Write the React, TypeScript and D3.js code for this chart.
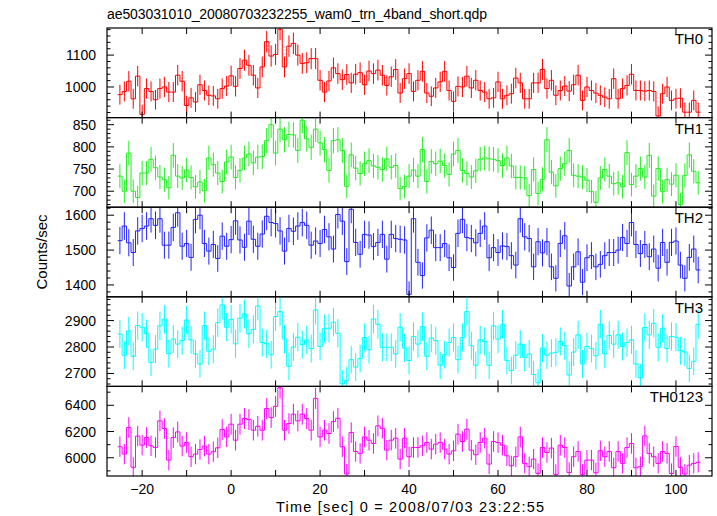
import React from 'react';
import * as d3 from 'd3';

// first bin centre (sec) and bin width (sec)
const firstBinCentre = -25;
const binWidth = 1;

const th0 = [
  976, 986, 1018, 963, 1034, 914, 995, 986, 960, 995,
  1000, 984, 984, 1037, 1018, 942, 966, 953, 1007, 989,
  974, 972, 963, 995, 1003, 1035, 1002, 1058, 1084, 1068,
  1037, 997, 1063, 1142, 1097, 1102, 1181, 1063, 1128, 1137,
  1100, 1074, 1076, 1089, 1089, 1021, 984, 1019, 1060, 1042,
  1023, 1039, 1013, 1040, 1045, 1007, 1050, 1042, 1053, 1037,
  1005, 1032, 1055, 981, 1026, 1042, 986, 1021, 1049, 981,
  971, 997, 1016, 1049, 989, 955, 1002, 1000, 1034, 997,
  1021, 989, 984, 963, 966, 1016, 963, 974, 979, 1028,
  1013, 963, 963, 1013, 1013, 1055, 995, 1021, 974, 989,
  1003, 987, 1007, 1037, 958, 1000, 989, 981, 974, 968,
  963, 1026, 963, 995, 1005, 1040, 989, 989, 987, 989,
  986, 909, 979, 1000, 958, 963, 965, 921, 921, 958, 921,
];

const th1 = [
  734, 700, 786, 700, 686, 741, 741, 772, 753, 732,
  726, 708, 781, 734, 730, 748, 731, 710, 721, 701,
  775, 760, 741, 722, 766, 777, 731, 747, 775, 784,
  764, 777, 778, 814, 850, 786, 840, 816, 828, 827,
  792, 860, 818, 799, 840, 809, 794, 747, 814, 816,
  792, 711, 782, 752, 740, 762, 769, 757, 754, 749,
  773, 754, 758, 706, 711, 734, 748, 734, 794, 722,
  767, 762, 768, 758, 738, 784, 792, 747, 740, 732,
  746, 772, 775, 773, 772, 769, 758, 775, 757, 731,
  731, 730, 690, 749, 695, 727, 816, 743, 712, 751,
  762, 792, 736, 734, 732, 725, 699, 675, 730, 749,
  734, 717, 719, 710, 787, 715, 734, 751, 732, 781,
  689, 751, 699, 726, 716, 736, 670, 736, 782, 745, 719,
];

const th2 = [
  1527, 1569, 1521, 1493, 1555, 1562, 1569, 1590, 1571, 1590,
  1514, 1514, 1565, 1607, 1511, 1519, 1479, 1588, 1600, 1519,
  1497, 1516, 1476, 1540, 1511, 1530, 1584, 1529, 1508, 1583,
  1531, 1511, 1546, 1597, 1579, 1576, 1555, 1497, 1562, 1554,
  1569, 1579, 1571, 1514, 1526, 1519, 1559, 1538, 1503, 1602,
  1583, 1467, 1617, 1522, 1488, 1545, 1543, 1510, 1522, 1545,
  1474, 1545, 1533, 1531, 1529, 1373, 1590, 1465, 1427, 1535,
  1557, 1507, 1507, 1519, 1478, 1450, 1548, 1588, 1536, 1533,
  1521, 1548, 1569, 1478, 1507, 1493, 1512, 1510, 1484, 1457,
  1590, 1538, 1533, 1452, 1524, 1492, 1524, 1452, 1419, 1519,
  1541, 1397, 1452, 1495, 1408, 1478, 1484, 1452, 1459, 1484,
  1493, 1493, 1500, 1536, 1519, 1579, 1516, 1490, 1516, 1481,
  1503, 1448, 1522, 1465, 1522, 1526, 1457, 1419, 1479, 1503, 1443,
];

const th3 = [
  2849, 2769, 2861, 2765, 2881, 2875, 2850, 2742, 2792, 2880,
  2905, 2775, 2830, 2811, 2824, 2902, 2827, 2774, 2736, 2881,
  2784, 2792, 2892, 2959, 2875, 2905, 2812, 2909, 2925, 2850,
  2867, 2955, 2817, 2812, 2771, 2915, 2934, 2830, 2727, 2800,
  2837, 2809, 2827, 2794, 2940, 2802, 2869, 2871, 2894, 2852,
  2661, 2674, 2752, 2724, 2756, 2836, 2790, 2906, 2886, 2799,
  2799, 2799, 2774, 2875, 2796, 2749, 2840, 2811, 2877, 2765,
  2834, 2824, 2731, 2771, 2817, 2836, 2752, 2836, 2934, 2805,
  2731, 2827, 2821, 2731, 2880, 2830, 2886, 2749, 2711, 2769,
  2811, 2761, 2774, 2696, 2665, 2796, 2769, 2777, 2780, 2821,
  2805, 2694, 2781, 2846, 2736, 2802, 2794, 2767, 2886, 2774,
  2844, 2811, 2846, 2802, 2817, 2827, 2736, 2684, 2874, 2846,
  2890, 2799, 2871, 2794, 2840, 2837, 2786, 2781, 2719, 2746, 2886,
];

const th0123 = [
  6084, 6028, 6230, 5927, 6165, 6096, 6154, 6091, 6078, 6281,
  6223, 5982, 6154, 6197, 6089, 6116, 6008, 6028, 6063, 6089,
  6028, 6046, 6076, 6215, 6159, 6256, 6134, 6256, 6299, 6291,
  6210, 6240, 6210, 6375, 6306, 6392, 6534, 6210, 6261, 6332,
  6281, 6332, 6299, 6210, 6453, 6159, 6210, 6185, 6276, 6301,
  6084, 5876, 6192, 6048, 6033, 6159, 6134, 6109, 6243, 6225,
  6058, 6134, 6149, 5990, 6149, 6008, 6078, 6078, 6091, 6116,
  6066, 6104, 6116, 6066, 6028, 6053, 6180, 6124, 6218, 6058,
  6023, 6116, 6149, 5952, 6124, 6116, 6096, 6015, 5939, 6008,
  6159, 5957, 5932, 5990, 5881, 6078, 6040, 6074, 5873, 6096,
  6078, 5888, 6008, 6048, 5873, 5982, 5982, 5886, 6053, 6008,
  6048, 5924, 6048, 5957, 6078, 6109, 5924, 5932, 6167, 6033,
  6008, 5957, 6048, 6033, 5880, 6086, 5927, 5876, 5944, 5957, 5965,
];

const panelNames = ['TH0', 'TH1', 'TH2', 'TH3', 'TH0123'];
const panelSeries = [th0, th1, th2, th3, th0123];
const panelColors = ['#ff0000', '#22ee22', '#2222ff', '#00ffff', '#ff00ff'];
const panelDomains: [number, number][] = [
  [904, 1185],
  [664, 866],
  [1366, 1623],
  [2651, 2990],
  [5861, 6544],
];
const panelMajor = [100, 50, 100, 100, 200];
const panelMinor = [20, 10, 20, 20, 100];

const xDomain: [number, number] = [-27.9, 108.1];
const xMajorTicks = [-20, 0, 20, 40, 60, 80, 100];
const xMinorTicks = [-20, -10, 0, 10, 20, 30, 40, 50, 60, 70, 80, 90, 100];

const titleText = 'ae503031010_20080703232255_wam0_trn_4band_short.qdp';
const xLabel = 'Time [sec] 0 = 2008/07/03 23:22:55';
const yLabel = 'Counts/sec';

const W = 717;
const H = 516;
const left = 107;
const right = 712;
const top = 28;
const bottom = 476;
const font = '"Liberation Sans", Arial, Helvetica, sans-serif';

export default function App() {
  const x = d3.scaleLinear().domain(xDomain).range([left, right]);
  const ph = (bottom - top) / panelNames.length;
  const fmt = (v: number) => (v < 0 ? '\u2212' + Math.abs(v) : String(v));

  return (
    <svg
      width={W}
      height={H}
      style={{ position: 'absolute', left: 0, top: 0, background: '#fff' }}
      fontFamily={font}
    >
      <defs>
        {panelNames.map((n, p) => (
          <clipPath id={`clip${p}`} key={n}>
            <rect x={left} y={top + p * ph} width={right - left} height={ph} />
          </clipPath>
        ))}
      </defs>
      <rect x={0} y={0} width={W} height={H} fill="#fff" />
      <text x={left} y={19} fontSize={14} fill="#000" textLength={380} lengthAdjust="spacing">
        {titleText}
      </text>
      {panelNames.map((name, p) => {
        const y0 = top + p * ph;
        const y1 = y0 + ph;
        const vals = panelSeries[p];
        const color = panelColors[p];
        const y = d3.scaleLinear().domain(panelDomains[p]).range([y1, y0]);
        const pts: [number, number][] = [];
        vals.forEach((v, i) => {
          const c = firstBinCentre + i * binWidth;
          pts.push([x(c - binWidth / 2), y(v)]);
          pts.push([x(c + binWidth / 2), y(v)]);
        });
        const stepPath = d3.line()(pts) || '';
        const [d0, d1] = panelDomains[p];
        const minor = panelMinor[p];
        const major = panelMajor[p];
        const yTicks = d3.range(Math.ceil(d0 / minor) * minor, d1 + 0.001, minor);
        return (
          <g key={name}>
            <g clipPath={`url(#clip${p})`}>
              {vals.map((v, i) => {
                const c = firstBinCentre + i * binWidth;
                const e = Math.sqrt(v);
                return (
                  <line
                    key={i}
                    x1={x(c)}
                    x2={x(c)}
                    y1={y(v - e)}
                    y2={y(v + e)}
                    stroke={color}
                    strokeWidth={1}
                  />
                );
              })}
              <path d={stepPath} fill="none" stroke={color} strokeWidth={1} />
            </g>
            {xMinorTicks.map((t) => (
              <g key={t}>
                <line x1={x(t)} x2={x(t)} y1={y0} y2={y0 + 6} stroke="#000" strokeWidth={1} />
                <line x1={x(t)} x2={x(t)} y1={y1} y2={y1 - 6} stroke="#000" strokeWidth={1} />
              </g>
            ))}
            {yTicks.map((t) => {
              const isMajor = Math.abs(t / major - Math.round(t / major)) < 1e-6;
              const len = isMajor ? 7 : 3.5;
              return (
                <g key={t}>
                  <line x1={left} x2={left + len} y1={y(t)} y2={y(t)} stroke="#000" strokeWidth={1} />
                  <line x1={right} x2={right - len} y1={y(t)} y2={y(t)} stroke="#000" strokeWidth={1} />
                  {isMajor && (
                    <text x={left - 11} y={y(t)} dy="0.36em" textAnchor="end" fontSize={14} fill="#000">
                      {t}
                    </text>
                  )}
                </g>
              );
            })}
            <rect x={left} y={y0} width={right - left} height={ph} fill="none" stroke="#000" strokeWidth={1.2} />
            <text x={703} y={y0 + 16} textAnchor="end" fontSize={15} fill="#000">
              {name}
            </text>
          </g>
        );
      })}
      {xMajorTicks.map((t) => (
        <text key={t} x={x(t)} y={494} textAnchor="middle" fontSize={14} fill="#000">
          {fmt(t)}
        </text>
      ))}
      <text x={276} y={512} fontSize={14.5} fill="#000" textLength={268} lengthAdjust="spacing">
        {xLabel}
      </text>
      <text
        transform={`translate(47,${(top + bottom) / 2}) rotate(-90)`}
        textAnchor="middle"
        fontSize={15}
        fill="#000"
      >
        {yLabel}
      </text>
    </svg>
  );
}
